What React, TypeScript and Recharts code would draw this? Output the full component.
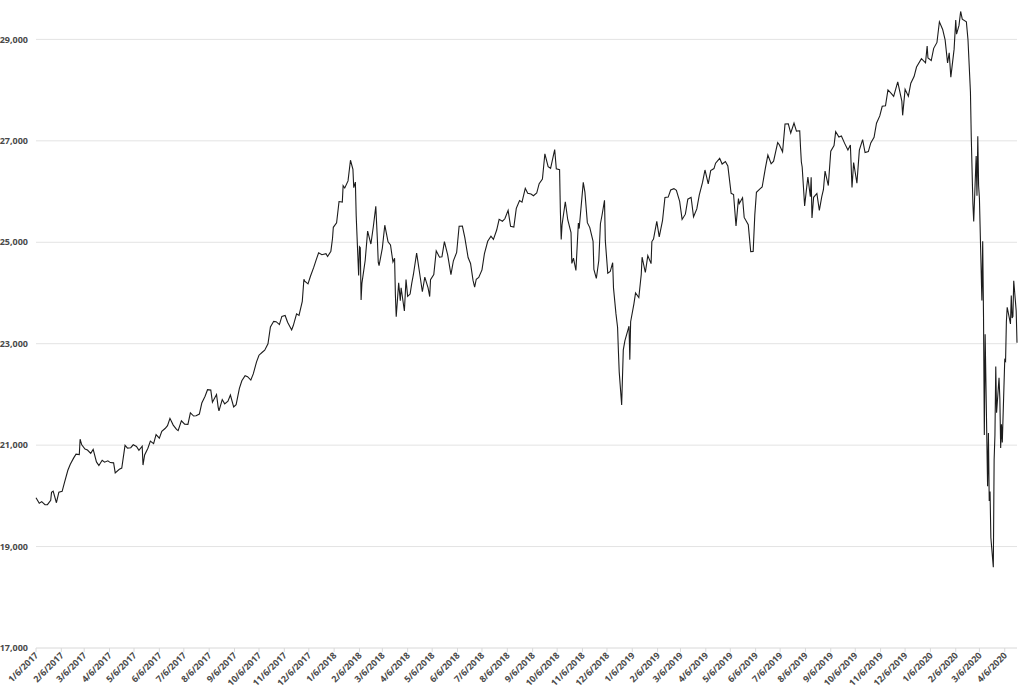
import React from "react";
import { LineChart, Line, XAxis, YAxis, ReferenceLine } from "recharts";

// Dow Jones Industrial Average closes (M/D, close)
const dow2017: [string, number][] = [
  ["1/6", 19964], ["1/10", 19855], ["1/13", 19886], ["1/17", 19826], ["1/20", 19827],
  ["1/24", 19913], ["1/25", 20069], ["1/27", 20094], ["1/31", 19864], ["2/3", 20071],
  ["2/7", 20090], ["2/10", 20269], ["2/14", 20504], ["2/17", 20624], ["2/21", 20744],
  ["2/24", 20822], ["2/28", 20812], ["3/1", 21116], ["3/3", 21006], ["3/7", 20924],
  ["3/10", 20903], ["3/14", 20837], ["3/17", 20915], ["3/21", 20669], ["3/24", 20597],
  ["3/28", 20701], ["3/31", 20663], ["4/4", 20690], ["4/7", 20656], ["4/11", 20651],
  ["4/13", 20453], ["4/18", 20524], ["4/21", 20548], ["4/25", 20996], ["4/28", 20941],
  ["5/2", 20950], ["5/5", 21007], ["5/9", 20975], ["5/12", 20897], ["5/16", 20980],
  ["5/17", 20607], ["5/19", 20805], ["5/23", 20938], ["5/26", 21080], ["5/30", 21029],
  ["6/2", 21206], ["6/6", 21136], ["6/9", 21272], ["6/13", 21328], ["6/16", 21384],
  ["6/19", 21528], ["6/23", 21395], ["6/27", 21310], ["6/29", 21287], ["7/3", 21479],
  ["7/7", 21414], ["7/11", 21409], ["7/14", 21638], ["7/18", 21574], ["7/21", 21580],
  ["7/25", 21613], ["7/28", 21830], ["8/1", 21964], ["8/4", 22093], ["8/8", 22085],
  ["8/10", 21844], ["8/15", 21998], ["8/17", 21750], ["8/18", 21674], ["8/22", 21899],
  ["8/25", 21814], ["8/29", 21865], ["9/1", 21988], ["9/5", 21753], ["9/8", 21798],
  ["9/12", 22119], ["9/15", 22268], ["9/19", 22370], ["9/22", 22349], ["9/26", 22284],
  ["9/29", 22405], ["10/3", 22642], ["10/6", 22773], ["10/10", 22831], ["10/13", 22871],
  ["10/17", 22997], ["10/20", 23329], ["10/24", 23441], ["10/27", 23434], ["10/31", 23377],
  ["11/3", 23539], ["11/7", 23557], ["11/10", 23422], ["11/15", 23272], ["11/17", 23358],
  ["11/21", 23590], ["11/24", 23558], ["11/28", 23836], ["11/30", 24272], ["12/1", 24231],
  ["12/5", 24180], ["12/8", 24329], ["12/12", 24504], ["12/15", 24652], ["12/18", 24792],
  ["12/22", 24754], ["12/27", 24775], ["12/29", 24719],
];

const dow2018: [string, number][] = [
  ["1/2", 24824], ["1/4", 25075], ["1/5", 25295], ["1/9", 25385], ["1/12", 25803],
  ["1/16", 25792], ["1/17", 26116], ["1/19", 26071], ["1/23", 26210], ["1/26", 26617],
  ["1/29", 26439], ["1/30", 26076], ["2/1", 26186], ["2/2", 25521], ["2/5", 24346],
  ["2/6", 24913], ["2/7", 24893], ["2/8", 23860], ["2/9", 24191], ["2/13", 24640],
  ["2/16", 25219], ["2/20", 24965], ["2/23", 25310], ["2/26", 25709], ["2/28", 25029],
  ["3/1", 24608], ["3/2", 24538], ["3/6", 24885], ["3/9", 25336], ["3/13", 25008],
  ["3/16", 24947], ["3/19", 24610], ["3/21", 24683], ["3/22", 23958], ["3/23", 23533],
  ["3/26", 24202], ["3/28", 23849], ["3/29", 24103], ["4/2", 23644], ["4/4", 24264],
  ["4/6", 23933], ["4/9", 23979], ["4/11", 24189], ["4/13", 24360], ["4/17", 24787],
  ["4/20", 24463], ["4/24", 24024], ["4/27", 24311], ["5/1", 24100], ["5/3", 23930],
  ["5/4", 24263], ["5/8", 24361], ["5/11", 24831], ["5/15", 24706], ["5/18", 24715],
  ["5/21", 25013], ["5/25", 24753], ["5/29", 24362], ["6/1", 24635], ["6/5", 24799],
  ["6/8", 25317], ["6/12", 25320], ["6/15", 25090], ["6/19", 24700], ["6/22", 24581],
  ["6/25", 24252], ["6/27", 24117], ["6/29", 24271], ["7/2", 24307], ["7/6", 24456],
  ["7/9", 24776], ["7/13", 25019], ["7/17", 25120], ["7/20", 25058], ["7/24", 25241],
  ["7/27", 25451], ["7/31", 25415], ["8/3", 25463], ["8/7", 25629], ["8/10", 25313],
  ["8/14", 25299], ["8/17", 25669], ["8/21", 25822], ["8/24", 25790], ["8/28", 26064],
  ["8/31", 25965], ["9/4", 25952], ["9/7", 25917], ["9/11", 25971], ["9/14", 26155],
  ["9/18", 26246], ["9/21", 26744], ["9/25", 26492], ["9/28", 26458], ["10/3", 26828],
  ["10/5", 26447], ["10/9", 26430], ["10/10", 25599], ["10/11", 25053], ["10/12", 25340],
  ["10/16", 25798], ["10/19", 25444], ["10/23", 25191], ["10/24", 24583], ["10/26", 24688],
  ["10/29", 24443], ["11/1", 25380], ["11/2", 25270], ["11/7", 26180], ["11/9", 25989],
  ["11/12", 25387], ["11/15", 25289], ["11/19", 25017], ["11/20", 24465], ["11/23", 24286],
  ["11/26", 24640], ["11/28", 25366], ["11/30", 25538], ["12/3", 25826], ["12/4", 25027],
  ["12/7", 24389], ["12/10", 24423], ["12/13", 24597], ["12/14", 24101], ["12/17", 23592],
  ["12/19", 23324], ["12/20", 22860], ["12/21", 22445], ["12/24", 21792], ["12/26", 22878],
  ["12/28", 23062],
];

const dow2019: [string, number][] = [
  ["1/2", 23346], ["1/3", 22686], ["1/4", 23433], ["1/8", 23787], ["1/10", 24001],
  ["1/14", 23910], ["1/17", 24370], ["1/18", 24706], ["1/22", 24404], ["1/25", 24737],
  ["1/29", 24579], ["1/30", 25014], ["2/1", 25064], ["2/5", 25411], ["2/8", 25106],
  ["2/12", 25425], ["2/15", 25883], ["2/19", 25891], ["2/22", 26031], ["2/26", 26057],
  ["3/1", 26026], ["3/5", 25806], ["3/8", 25450], ["3/12", 25554], ["3/15", 25849],
  ["3/19", 25887], ["3/22", 25502], ["3/26", 25657], ["3/29", 25929], ["4/2", 26180],
  ["4/5", 26425], ["4/9", 26151], ["4/12", 26412], ["4/16", 26453], ["4/18", 26559],
  ["4/23", 26656], ["4/26", 26543], ["4/30", 26593], ["5/3", 26505], ["5/7", 25965],
  ["5/10", 25942], ["5/13", 25324], ["5/16", 25863], ["5/17", 25764], ["5/21", 25877],
  ["5/23", 25490], ["5/28", 25347], ["5/31", 24815], ["6/3", 24820], ["6/5", 25540],
  ["6/7", 25984], ["6/11", 26048], ["6/14", 26090], ["6/18", 26465], ["6/21", 26720],
  ["6/25", 26548], ["6/28", 26600], ["7/3", 26966], ["7/5", 26922], ["7/9", 26784],
  ["7/12", 27332], ["7/16", 27336], ["7/19", 27154], ["7/23", 27350], ["7/26", 27192],
  ["7/30", 27198], ["7/31", 26864], ["8/1", 26583], ["8/2", 26485], ["8/5", 25718],
  ["8/7", 26008], ["8/9", 26287], ["8/12", 25897], ["8/13", 26280], ["8/14", 25480],
  ["8/16", 25886], ["8/20", 25962], ["8/23", 25629], ["8/26", 25898], ["8/28", 26036],
  ["8/30", 26403], ["9/3", 26118], ["9/6", 26797], ["9/10", 26909], ["9/12", 27182],
  ["9/16", 27076], ["9/19", 27095], ["9/23", 26950], ["9/27", 26820], ["9/30", 26917],
  ["10/2", 26079], ["10/4", 26573], ["10/8", 26165], ["10/11", 26817], ["10/15", 27024],
  ["10/18", 26770], ["10/22", 26788], ["10/25", 26958], ["10/29", 27071], ["11/1", 27347],
  ["11/5", 27492], ["11/8", 27681], ["11/12", 27691], ["11/15", 28005], ["11/19", 27934],
  ["11/22", 27876], ["11/27", 28164], ["12/2", 27783], ["12/3", 27503], ["12/6", 28015],
  ["12/10", 27881], ["12/13", 28135], ["12/17", 28268], ["12/20", 28455], ["12/26", 28621],
  ["12/31", 28538],
];

const dow2020: [string, number][] = [
  ["1/2", 28868], ["1/3", 28635], ["1/7", 28584], ["1/10", 28824], ["1/14", 28940],
  ["1/17", 29348], ["1/21", 29196], ["1/24", 28990], ["1/27", 28536], ["1/29", 28734],
  ["1/31", 28256], ["2/4", 28808], ["2/6", 29380], ["2/7", 29103], ["2/10", 29276],
  ["2/12", 29551], ["2/14", 29398], ["2/19", 29348], ["2/21", 28992], ["2/24", 27961],
  ["2/25", 27081], ["2/27", 25767], ["2/28", 25409], ["3/2", 26703], ["3/3", 25917],
  ["3/4", 27091], ["3/5", 26121], ["3/6", 25865], ["3/9", 23851], ["3/10", 25018],
  ["3/11", 23553], ["3/12", 21200], ["3/13", 23186], ["3/16", 20189], ["3/17", 21237],
  ["3/18", 19899], ["3/19", 20087], ["3/20", 19174], ["3/23", 18592], ["3/24", 20705],
  ["3/25", 21201], ["3/26", 22552], ["3/27", 21637], ["3/30", 22328], ["3/31", 21917],
  ["4/1", 20944], ["4/2", 21413], ["4/3", 21053], ["4/6", 22680], ["4/7", 22654],
  ["4/8", 23434], ["4/9", 23719], ["4/13", 23390], ["4/14", 23950], ["4/15", 23505],
  ["4/16", 23538], ["4/17", 24242], ["4/20", 23650], ["4/21", 23018],
];

const tickLabels = [
  "1/6/2017", "2/6/2017", "3/6/2017", "4/6/2017", "5/6/2017", "6/6/2017",
  "7/6/2017", "8/6/2017", "9/6/2017", "10/6/2017", "11/6/2017", "12/6/2017",
  "1/6/2018", "2/6/2018", "3/6/2018", "4/6/2018", "5/6/2018", "6/6/2018",
  "7/6/2018", "8/6/2018", "9/6/2018", "10/6/2018", "11/6/2018", "12/6/2018",
  "1/6/2019", "2/6/2019", "3/6/2019", "4/6/2019", "5/6/2019", "6/6/2019",
  "7/6/2019", "8/6/2019", "9/6/2019", "10/6/2019", "11/6/2019", "12/6/2019",
  "1/6/2020", "2/6/2020", "3/6/2020", "4/6/2020",
];

const yTicks = [17000, 19000, 21000, 23000, 25000, 27000, 29000];

const DAY = 86400000;
const START = Date.UTC(2017, 0, 6);

const dayOf = (m: number, d: number, y: number) =>
  Math.round((Date.UTC(y, m - 1, d) - START) / DAY);

const years: [number, [string, number][]][] = [
  [2017, dow2017],
  [2018, dow2018],
  [2019, dow2019],
  [2020, dow2020],
];

const data = years.flatMap(([year, rows]) =>
  rows.map(([md, close]) => {
    const [m, d] = md.split("/").map(Number);
    return { day: dayOf(m, d, year), close };
  })
);

const tickDays = tickLabels.map((s) => {
  const [m, d, y] = s.split("/").map(Number);
  return dayOf(m, d, y);
});

const labelByDay: Record<number, string> = {};
tickDays.forEach((t, i) => (labelByDay[t] = tickLabels[i]));

const FONT = "'Open Sans', sans-serif";

const DateTick = (props: any) => {
  const { x, y, payload } = props;
  return (
    <g transform={`translate(${x + 3},${y + 2})`}>
      <text
        x={0}
        y={0}
        textAnchor="end"
        transform="rotate(-45)"
        fontSize={9}
        fontWeight={700}
        fontFamily={FONT}
        fill="#4a4a4a"
      >
        {labelByDay[payload.value]}
      </text>
    </g>
  );
};

export default function App() {
  return (
    <div style={{ position: "absolute", left: 0, top: 0 }}>
      <LineChart
        width={1024}
        height={690}
        data={data}
        margin={{ top: 11, right: 7, left: 0, bottom: 0 }}
      >
        <XAxis
          dataKey="day"
          type="number"
          domain={[0, data[data.length - 1].day]}
          ticks={tickDays}
          interval={0}
          height={42}
          tickSize={4}
          tickMargin={2}
          stroke="#d8d8d8"
          tick={<DateTick />}
        />
        <YAxis
          type="number"
          domain={[17000, 29560]}
          ticks={yTicks}
          width={36}
          axisLine={false}
          tickLine={false}
          tickFormatter={(v: number) => v.toLocaleString("en-US")}
          tick={{ fontSize: 9, fontWeight: 700, fontFamily: FONT, fill: "#4a4a4a" }}
        />
        {yTicks.slice(1).map((v) => (
          <ReferenceLine key={v} y={v} stroke="#e3e3e3" />
        ))}
        <Line
          type="linear"
          dataKey="close"
          stroke="#1c1c1c"
          strokeWidth={1.1}
          dot={false}
          isAnimationActive={false}
        />
      </LineChart>
    </div>
  );
}
